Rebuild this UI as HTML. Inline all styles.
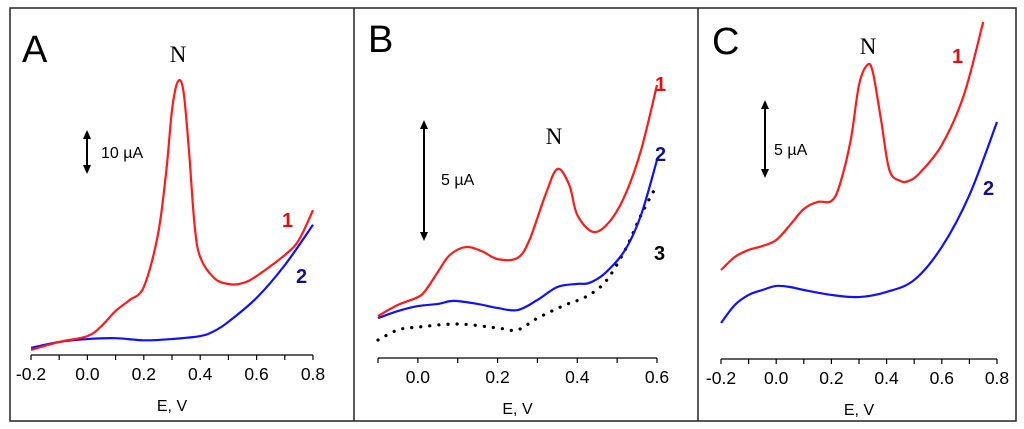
<!DOCTYPE html>
<html><head><meta charset="utf-8"><style>
html,body{margin:0;padding:0;background:#fff}
svg{display:block}
</style></head><body>
<svg id="fig" width="1024" height="429" viewBox="0 0 1024 429" xmlns="http://www.w3.org/2000/svg" font-family="Liberation Sans, sans-serif">
<rect x="10" y="8" width="1006" height="413" fill="none" stroke="#222" stroke-width="1.5"/>
<line x1="354" y1="8" x2="354" y2="421" stroke="#222" stroke-width="1.5"/>
<line x1="698" y1="8" x2="698" y2="421" stroke="#222" stroke-width="1.5"/>
</svg>
<script>
// Panel A data (x in V, y in µA)
const aRedX=[-0.2,-0.1,0.0,0.05,0.1,0.15,0.2,0.25,0.28,0.3,0.32,0.34,0.36,0.38,0.4,0.45,0.5,0.55,0.6,0.7,0.75,0.8];
const aRedY=[1.2,3.1,4.5,6.9,10.5,13.1,16.2,28.6,44,58.3,65,63.1,48.8,31,23.3,18.3,16.9,17.1,18.8,23.8,27.4,34.5];
const aBlueX=[-0.2,-0.1,0.0,0.1,0.2,0.3,0.4,0.45,0.5,0.6,0.7,0.8];
const aBlueY=[1.7,3.1,3.8,4.0,3.5,3.8,4.5,5.7,7.9,13.6,21.4,31];
const aTicks=["-0.2","0.0","0.2","0.4","0.6","0.8"];
// Panel B data
const bRedX=[-0.1,-0.05,0.0,0.02,0.05,0.08,0.12,0.16,0.2,0.25,0.28,0.32,0.35,0.38,0.4,0.44,0.48,0.52,0.56,0.6];
const bRedY=[1.78,2.25,2.58,2.88,3.64,4.36,4.70,4.53,4.19,4.24,5.0,6.91,8.01,7.33,6.06,5.34,5.76,6.91,8.81,11.57];
const bBlueX=[-0.1,-0.05,0.0,0.05,0.09,0.15,0.2,0.25,0.3,0.35,0.4,0.43,0.47,0.52,0.56,0.6];
const bBlueY=[1.69,1.99,2.20,2.29,2.42,2.29,2.12,2.03,2.46,3.01,3.14,3.18,3.60,4.58,6.06,8.39];
const bDotX=[-0.1,-0.05,0.0,0.1,0.2,0.25,0.3,0.37,0.42,0.47,0.52,0.56,0.6];
const bDotY=[0.76,1.19,1.31,1.44,1.27,1.19,1.69,2.25,2.58,3.22,4.58,6.06,7.33];
const bTicks=["0.0","0.2","0.4","0.6"];
// Panel C data
const cRedX=[-0.2,-0.15,-0.1,-0.05,0.0,0.05,0.1,0.15,0.2,0.23,0.27,0.3,0.33,0.35,0.38,0.41,0.45,0.48,0.52,0.6,0.68,0.75];
const cRedY=[5.93,6.8,7.27,7.53,7.93,8.93,10.0,10.47,10.53,11.6,14.6,18.27,19.6,19.13,15.93,12.6,11.87,11.87,12.4,14.27,17.6,22.47];
const cBlueX=[-0.2,-0.15,-0.1,-0.05,0.0,0.05,0.1,0.2,0.3,0.4,0.5,0.6,0.7,0.8];
const cBlueY=[2.4,3.6,4.27,4.6,4.87,4.8,4.6,4.27,4.13,4.47,5.27,7.47,10.93,15.8];
const cTicks=["-0.2","0.0","0.2","0.4","0.6","0.8"];

const NS="http://www.w3.org/2000/svg";
const svg=document.getElementById('fig');
function mk(tag,attrs,parent){const e=document.createElementNS(NS,tag);for(const k in attrs)e.setAttribute(k,attrs[k]);(parent||svg).appendChild(e);return e;}
function path(xs,ys,sx,sy){
  const p=xs.map((x,i)=>[sx(x),sy(ys[i])]);
  let d=`M${p[0][0]},${p[0][1]}`;
  for(let i=0;i<p.length-1;i++){
    const p0=p[Math.max(0,i-1)],p1=p[i],p2=p[i+1],p3=p[Math.min(p.length-1,i+2)];
    const c1=[p1[0]+(p2[0]-p0[0])/6,p1[1]+(p2[1]-p0[1])/6];
    const c2=[p2[0]-(p3[0]-p1[0])/6,p2[1]-(p3[1]-p1[1])/6];
    d+=` C${c1[0]},${c1[1]} ${c2[0]},${c2[1]} ${p2[0]},${p2[1]}`;
  }
  return d;
}
function text(x,y,s,size,fill,extra){const t=mk('text',Object.assign({x:x,y:y,'font-size':size,fill:fill||'#000'},extra||{}));t.textContent=s;return t;}
function panel(cfg){
  const g=mk('g',{});
  
  
  const sx=v=>cfg.x0+(v-cfg.xmin)/(cfg.xmax-cfg.xmin)*(cfg.x1-cfg.x0);
  const sy=v=>cfg.axisY-v*cfg.ppu;
  const ax=mk('line',{x1:cfg.x0,y1:cfg.axisY,x2:cfg.x1,y2:cfg.axisY,stroke:'#000','stroke-width':1.3},g);
  
  
  const n=Math.round((cfg.xmax-cfg.xmin)/0.1);
  for(let i=0;i<=n;i++){
    const v=cfg.xmin+i*0.1, X=sx(v);
    const tk=mk('line',{x1:X,y1:cfg.axisY,x2:X,y2:cfg.axisY+5,stroke:'#000','stroke-width':1.2},g);
    
    
  }
  cfg.ticks.forEach(s=>{
    const t=text(sx(parseFloat(s)),cfg.axisY+25,s,17.5,'#000',{'text-anchor':'middle'});
    
    
  });
  const xt=text((cfg.x0+cfg.x1)/2,cfg.axisY+56,'E, V',16,'#000',{'text-anchor':'middle'});
  
  
  cfg.series.forEach(s=>{
    const attrs={d:path(s.x,s.y,sx,sy),fill:'none',stroke:s.c,'stroke-width':s.w||2.2};
    if(s.dash){attrs['stroke-dasharray']='0.1 9';attrs['stroke-linecap']='round';attrs['stroke-width']=3.2;}
    const p=mk('path',attrs,g);
    
    
  });
  const L=text(cfg.letter[0],cfg.letter[1],cfg.letter[2],38,'#000');
  
  
  const N=text(cfg.nlab[0],cfg.nlab[1],'N',23,'#000',{'font-family':'Liberation Serif, serif','text-anchor':'middle'});
  
  
  const sb=cfg.scale;
  const ar=mk('g',{},g);
  
  
  mk('line',{x1:sb.x,y1:sb.y1+6,x2:sb.x,y2:sb.y2-6,stroke:'#000','stroke-width':2},ar);
  mk('polygon',{points:`${sb.x},${sb.y1} ${sb.x-4},${sb.y1+9} ${sb.x+4},${sb.y1+9}`,fill:'#000'},ar);
  mk('polygon',{points:`${sb.x},${sb.y2} ${sb.x-4},${sb.y2-9} ${sb.x+4},${sb.y2-9}`,fill:'#000'},ar);
  const st=text(sb.tx,sb.ty,sb.label,16,'#000');
  
  
  cfg.labels.forEach(l=>{
    const t=text(l[0],l[1],l[2],20,l[3],{'font-weight':'bold'});
    
    
  });
}
panel({name:'panel-a',x0:31,x1:313,xmin:-0.2,xmax:0.8,axisY:355,ppu:4.2,ticks:aTicks,
  series:[{x:aBlueX,y:aBlueY,c:'#1010ff',name:'curve-a2'},{x:aRedX,y:aRedY,c:'#ff1a1a',name:'curve-a1'}],
  letter:[22,62,'A'],nlab:[178,62],scale:{x:87,y1:130,y2:174,tx:101,ty:158,label:'10 µA'},
  labels:[[282,227,'1','#e01010'],[296,283,'2','#101090']]});
panel({name:'panel-b',x0:378,x1:657,xmin:-0.1,xmax:0.6,axisY:358,ppu:23.6,ticks:bTicks,
  series:[{x:bDotX,y:bDotY,c:'#000',dash:true,name:'curve-b3'},{x:bBlueX,y:bBlueY,c:'#1010ff',name:'curve-b2'},{x:bRedX,y:bRedY,c:'#ff1a1a',name:'curve-b1'}],
  letter:[368,52,'B'],nlab:[554,144],scale:{x:424,y1:120,y2:241,tx:441,ty:185,label:'5 µA'},
  labels:[[655,91,'1','#e01010'],[655,161,'2','#101090'],[654,260,'3','#000']]});
panel({name:'panel-c',x0:721,x1:997,xmin:-0.2,xmax:0.8,axisY:359,ppu:15,ticks:cTicks,
  series:[{x:cBlueX,y:cBlueY,c:'#1010ff',name:'curve-c2'},{x:cRedX,y:cRedY,c:'#ff1a1a',name:'curve-c1'}],
  letter:[712,54,'C'],nlab:[868,54],scale:{x:765,y1:100,y2:178,tx:774,ty:155,label:'5 µA'},
  labels:[[952,63,'1','#e01010'],[983,195,'2','#101090']]});
</script>
</body></html>
